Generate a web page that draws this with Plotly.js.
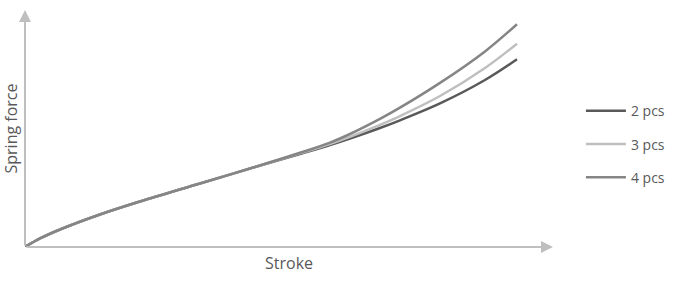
<!DOCTYPE html>
<html>
<head>
<meta charset="utf-8">
<script src="https://cdn.plot.ly/plotly-3.0.1.min.js"></script>
<style>html,body{margin:0;padding:0;background:#fff;}#chart{width:691px;height:281px;}</style>
</head>
<body>
<div id="chart"></div>
<script>
// Stroke positions (relative 0-100) and spring force (relative 0-100)
const stroke = [0, 2.84, 6.63, 14.20, 21.78, 33.14, 42.61, 52.08, 57.77, 61.55, 67.23, 71.02, 78.60, 87.12, 93.18];
const force2 = [0, 3.59, 7.38, 13.71, 19.20, 26.79, 33.12, 39.24, 43.04, 45.78, 50.21, 53.46, 60.59, 70.46, 79.20];
const force3 = [0, 3.59, 7.38, 13.71, 19.20, 26.79, 33.12, 39.49, 43.46, 46.50, 51.56, 55.27, 63.71, 75.53, 85.78];
const force4 = [0, 3.59, 7.38, 13.71, 19.20, 26.79, 33.12, 39.75, 44.05, 47.68, 54.05, 58.78, 69.24, 82.53, 94.01];
const seriesNames = ['2 pcs', '3 pcs', '4 pcs'];
const seriesColors = ['#595959', '#bfbfbf', '#858585'];

const ys = [force2, force3, force4];
const traces = ys.map((y, i) => ({
  x: stroke, y: y, type: 'scatter', mode: 'lines', name: seriesNames[i],
  legendgroup: 'g' + i,
  line: {color: seriesColors[i], width: 2.5, shape: 'spline', smoothing: 1},
  hoverinfo: 'skip'
}));

const txt = '#595959';
const layout = {
  width: 691, height: 281,
  margin: {l: 25, r: 138, t: 10, b: 34},
  paper_bgcolor: '#fff', plot_bgcolor: '#fff',
  font: {family: '"Open Sans", Lato, sans-serif', color: txt, size: 14},
  xaxis: {range: [0, 100], showgrid: false, zeroline: false, showline: false, showticklabels: false, ticks: '',
          title: {text: 'Stroke', font: {size: 16, color: txt}, standoff: 10}},
  yaxis: {range: [0, 100], showgrid: false, zeroline: false, showline: false, showticklabels: false, ticks: '',
          title: {text: 'Spring force', font: {size: 16, color: txt}, standoff: 4}},
  showlegend: true,
  legend: {xref: 'container', yref: 'container', x: 0.8407, y: 0.661, xanchor: 'left', yanchor: 'top',
           itemwidth: 40, tracegroupgap: 12, font: {size: 14, color: txt}, bgcolor: 'rgba(0,0,0,0)'},
  annotations: [
    {x: 100, y: 0, ax: 0, ay: 0, xref: 'x', yref: 'y', axref: 'x', ayref: 'y', text: '', showarrow: true,
     arrowhead: 2, arrowsize: 1.2, arrowwidth: 2, arrowcolor: '#bfbfbf'},
    {x: 0, y: 100, ax: 0, ay: 0, xref: 'x', yref: 'y', axref: 'x', ayref: 'y', text: '', showarrow: true,
     arrowhead: 2, arrowsize: 1.2, arrowwidth: 2, arrowcolor: '#bfbfbf'}
  ]
};
Plotly.newPlot('chart', traces, layout, {displayModeBar: false, staticPlot: true});
</script>
</body>
</html>
